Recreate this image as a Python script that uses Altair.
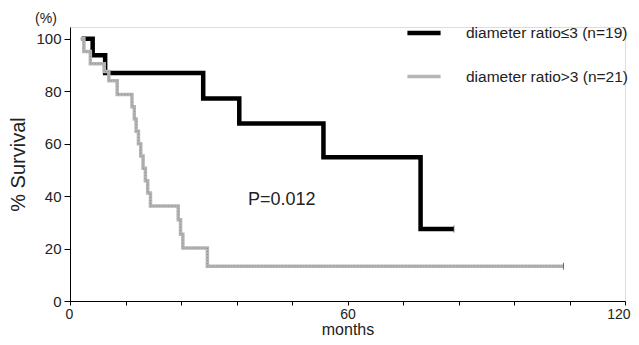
import altair as alt
import pandas as pd

# ---- data ----
LABEL_A = "diameter ratio≤3 (n=19)"
LABEL_B = "diameter ratio>3 (n=21)"

black_t = [2.5, 4.9, 7.6, 28.8, 36.6, 54.8, 75.8, 83.0]
black_s = [100, 93.7, 87.0, 77.2, 67.7, 54.8, 27.5, 27.5]

gray_t = [2.3, 3.0, 4.4, 7.4, 8.4, 10.2, 13.4, 13.9, 14.3, 14.8, 15.3, 15.8,
          16.3, 16.8, 17.4, 23.4, 23.9, 24.4, 29.7, 106.7]
gray_s = [100, 95.2, 90.5, 87.5, 84.0, 78.8, 74.1, 69.4, 64.7, 60.0, 55.3, 50.6,
          45.9, 41.2, 36.2, 31.0, 25.5, 20.2, 13.3, 13.3]

censor_t = [83.0, 106.7]
censor_s = [27.5, 13.3]

x_ticks = [0, 12, 24, 36, 48, 60, 72, 84, 96, 108, 120]
y_ticks = [0, 10, 20, 30, 40, 50, 60, 70, 80, 90, 100]

p_text = "P=0.012"
p_pos = (38.5, 38.4)
pct_text = "(%)"
pct_pos = (-5.2, 107.6)

FONT = "Liberation Sans"

df = pd.concat([
    pd.DataFrame({"t": black_t, "s": black_s, "group": LABEL_A}),
    pd.DataFrame({"t": gray_t, "s": gray_s, "group": LABEL_B}),
])
gray_df = pd.DataFrame({"t": gray_t, "s": gray_s})
cens_df = pd.DataFrame({"t": censor_t, "s": censor_s})
p_df = pd.DataFrame({"t": [p_pos[0]], "s": [p_pos[1]], "txt": [p_text]})
pct_df = pd.DataFrame({"t": [pct_pos[0]], "s": [pct_pos[1]], "txt": [pct_text]})

xscale = alt.Scale(domain=[0, 120], nice=False, zero=False)
yscale = alt.Scale(domain=[0, 104.5], nice=False)

xaxis = alt.Axis(
    values=x_ticks,
    labelExpr="datum.value % 60 == 0 ? datum.label : ''",
    title="months", titleFontSize=16, titleFontWeight="normal", titlePadding=0,
    labelFontSize=14, tickSize=4, labelPadding=2, grid=False,
    labelFlush=True, labelFlushOffset=5,
    domainColor="black", tickColor="black", labelColor="#222", titleColor="#222",
    labelFont=FONT, titleFont=FONT,
)
yaxis = alt.Axis(
    values=y_ticks,
    labelExpr="datum.value % 20 == 0 ? datum.label : ''",
    title="% Survival", titleFontSize=20, titleFontWeight="normal", titlePadding=7,
    labelFontSize=15, tickSize=6, labelPadding=3, grid=False,
    domainColor="black", tickColor="black", labelColor="#222", titleColor="#222",
    labelFont=FONT, titleFont=FONT,
)

curves = alt.Chart(df).mark_line(interpolate="step-after").encode(
    x=alt.X("t:Q", scale=xscale, axis=xaxis),
    y=alt.Y("s:Q", scale=yscale, axis=yaxis),
    color=alt.Color(
        "group:N",
        scale=alt.Scale(domain=[LABEL_A, LABEL_B], range=["#000000", "#b5b5b5"]),
        legend=alt.Legend(
            title=None, orient="none", legendX=335, legendY=-13,
            symbolType="stroke", symbolSize=1100, symbolStrokeWidth=4.5,
            labelFontSize=15.5, labelFont=FONT, labelColor="#222", labelLimit=300,
            labelOffset=23, rowPadding=16, symbolOpacity=1,
        ),
    ),
    strokeWidth=alt.StrokeWidth(
        "group:N",
        scale=alt.Scale(domain=[LABEL_A, LABEL_B], range=[4.5, 3.5]),
        legend=None,
    ),
    detail="group:N",
)

texture = alt.Chart(gray_df).mark_line(
    interpolate="step-after", color="#6a6a6a", strokeWidth=1, strokeDash=[1, 2], opacity=0.6
).encode(x=alt.X("t:Q", scale=xscale), y=alt.Y("s:Q", scale=yscale))

cens = alt.Chart(cens_df).mark_tick(
    orient="vertical", color="#333", size=7, thickness=1
).encode(x=alt.X("t:Q", scale=xscale), y=alt.Y("s:Q", scale=yscale))

ptext = alt.Chart(p_df).mark_text(
    align="left", baseline="middle", fontSize=18, font=FONT, color="#222"
).encode(x=alt.X("t:Q", scale=xscale), y=alt.Y("s:Q", scale=yscale), text="txt:N")

pcttext = alt.Chart(pct_df).mark_text(
    align="center", baseline="middle", fontSize=14, font=FONT, color="#222"
).encode(x=alt.X("t:Q", scale=xscale), y=alt.Y("s:Q", scale=yscale), text="txt:N")

chart = alt.layer(curves, texture, cens, ptext, pcttext).properties(
    width=555, height=274,
    autosize=alt.AutoSizeParams(type="none"),
    padding={"left": 62, "top": 19, "right": 6, "bottom": 36},
).configure_view(stroke=None).configure(background="white")

chart.save("out.html", embed_options={"renderer": "svg", "actions": False})
